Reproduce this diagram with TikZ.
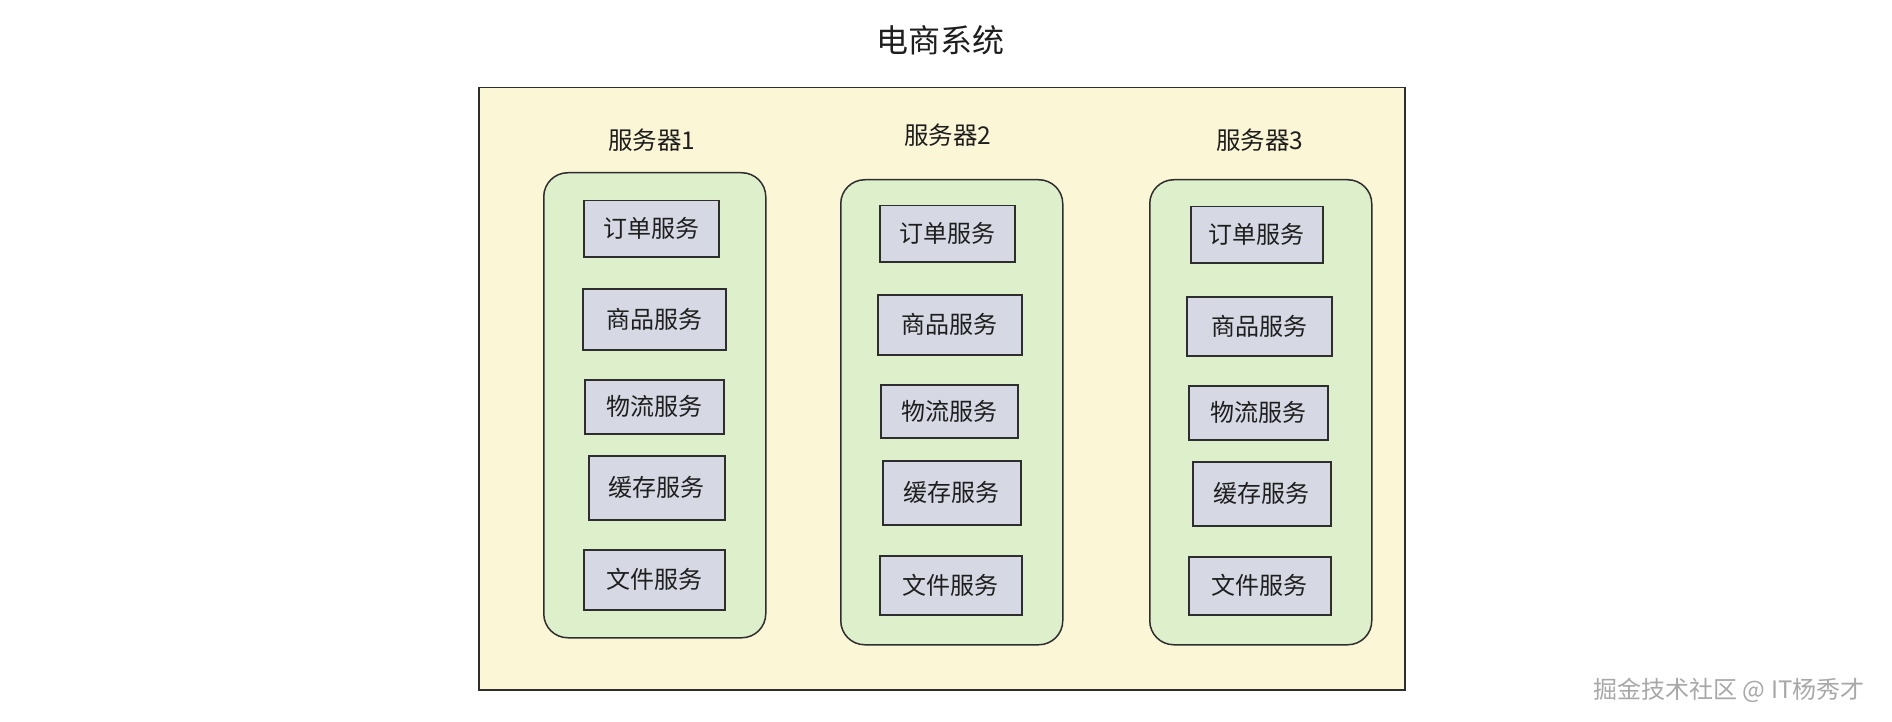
\documentclass[tikz,border=0pt]{standalone}
\usepackage{fontspec}
\setmainfont{Noto Sans CJK SC}
\definecolor{linec}{HTML}{2E2E2E}
\definecolor{yellowf}{HTML}{FBF6D6}
\definecolor{greenf}{HTML}{DDEFCB}
\definecolor{grayf}{HTML}{D6D9E4}
\definecolor{textc}{HTML}{1E1E1E}
\definecolor{wmc}{HTML}{A8A8A8}
\begin{document}
\begin{tikzpicture}[x=1pt,y=-1pt,
  outerbox/.style={draw=linec, fill=yellowf, line width=1.5pt, anchor=north west, inner sep=0pt},
  server/.style={draw=linec, fill=greenf, line width=1.5pt, rounded corners=24pt, anchor=north west, inner sep=0pt},
  svc/.style={draw=linec, fill=grayf, line width=1.5pt, anchor=north west, inner sep=0pt,
    font=\fontsize{24}{28}\selectfont, text=textc},
  lbl/.style={font=\fontsize{24.5}{30}\selectfont, text=textc, inner sep=0pt},
  ttl/.style={font=\fontsize{32}{36}\selectfont, text=textc, inner sep=0pt},
  wm/.style={font=\fontsize{24}{26}\selectfont, text=wmc, inner sep=0pt}]
\useasboundingbox (0,0) rectangle (1892,722);
\fill[white] (0,0) rectangle (1892,722);

\node[ttl] (title) at (940,40) {电商系统};
\node[outerbox, minimum width=926pt, minimum height=602pt] (sys) at (478,87) {};

% server 1
\node[lbl] (l1) at (652,140) {服务器1};
\node[server, minimum width=222pt, minimum height=465pt] (srv1) at (543,172) {};
\node[svc, minimum width=135pt, minimum height=56pt] (a1) at (583,200) {订单服务};
\node[svc, minimum width=143pt, minimum height=61pt] (a2) at (582,288) {商品服务};
\node[svc, minimum width=139pt, minimum height=54pt] (a3) at (584,379) {物流服务};
\node[svc, minimum width=136pt, minimum height=64pt] (a4) at (588,455) {缓存服务};
\node[svc, minimum width=141pt, minimum height=60pt] (a5) at (583,549) {文件服务};

% server 2
\node[lbl] (l2) at (948,135) {服务器2};
\node[server, minimum width=222pt, minimum height=465pt] (srv2) at (840,179) {};
\node[svc, minimum width=135pt, minimum height=56pt] (b1) at (879,205) {订单服务};
\node[svc, minimum width=144pt, minimum height=60pt] (b2) at (877,294) {商品服务};
\node[svc, minimum width=137pt, minimum height=53pt] (b3) at (880,384) {物流服务};
\node[svc, minimum width=138pt, minimum height=64pt] (b4) at (882,460) {缓存服务};
\node[svc, minimum width=142pt, minimum height=59pt] (b5) at (879,555) {文件服务};

% server 3
\node[lbl] (l3) at (1260,140) {服务器3};
\node[server, minimum width=222pt, minimum height=465pt] (srv3) at (1149,179) {};
\node[svc, minimum width=132pt, minimum height=56pt] (c1) at (1190,206) {订单服务};
\node[svc, minimum width=145pt, minimum height=59pt] (c2) at (1186,296) {商品服务};
\node[svc, minimum width=139pt, minimum height=54pt] (c3) at (1188,385) {物流服务};
\node[svc, minimum width=138pt, minimum height=64pt] (c4) at (1192,461) {缓存服务};
\node[svc, minimum width=142pt, minimum height=58pt] (c5) at (1188,556) {文件服务};

% watermark
\node[wm] (wmark) at (1729,690) {掘金技术社区 @ IT杨秀才};
\end{tikzpicture}
\end{document}
